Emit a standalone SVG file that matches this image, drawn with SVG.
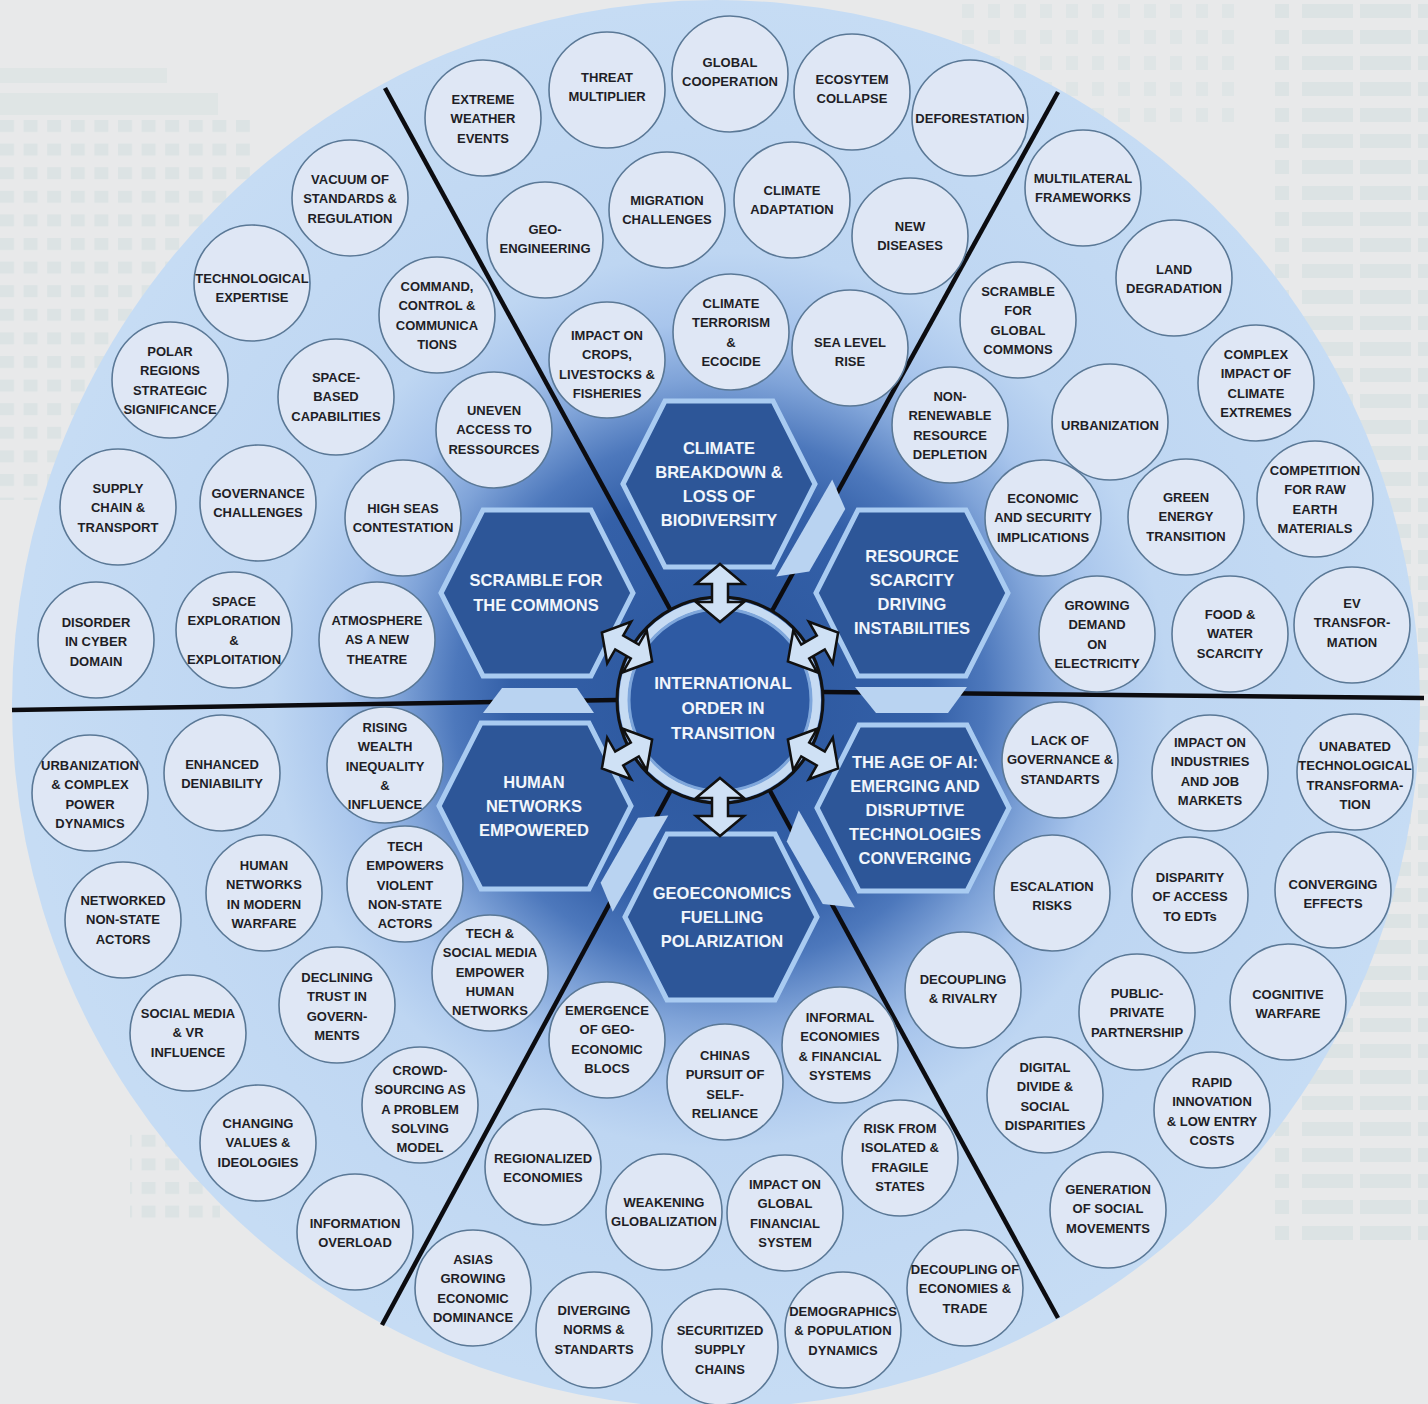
<svg xmlns="http://www.w3.org/2000/svg" width="1428" height="1404" viewBox="0 0 1428 1404">
<defs>
<radialGradient id="disc" cx="720" cy="700" r="700" gradientUnits="userSpaceOnUse">
<stop offset="0" stop-color="#2b569c"/>
<stop offset="0.30" stop-color="#3460a8"/>
<stop offset="0.38" stop-color="#4d78bc"/>
<stop offset="0.46" stop-color="#7fa3d8"/>
<stop offset="0.54" stop-color="#a8c5ec"/>
<stop offset="0.64" stop-color="#bed6f2"/>
<stop offset="1" stop-color="#c6dcf4"/>
</radialGradient>
<pattern id="grid" x="0" y="120" width="23.6" height="23.6" patternUnits="userSpaceOnUse"><rect width="14" height="12" fill="#dce3e4"/></pattern>
<pattern id="bars" x="1240" y="0" width="188" height="26" patternUnits="userSpaceOnUse">
<rect x="35" y="4" width="14" height="14" fill="#dce3e4"/><rect x="62" y="4" width="51" height="14" fill="#dce3e4"/><rect x="120" y="4" width="51" height="14" fill="#dce3e4"/><rect x="178" y="4" width="10" height="14" fill="#dce3e4"/>
</pattern>
<pattern id="small" x="960" y="0" width="26" height="26" patternUnits="userSpaceOnUse"><rect x="2" y="4" width="12" height="14" fill="#dfe5e6"/></pattern>
<polygon id="arrow" points="-29,0 -9,-24 -9,-8 9,-8 9,-24 29,0 9,24 9,8 -9,8 -9,24"/>
</defs>
<style>
.bub circle{fill:#dfe7f5;stroke:#5a7896;stroke-width:1.6}
.bub text{font-family:"Liberation Sans",Arial,sans-serif;font-weight:bold;font-size:13px;fill:#1e1e26;text-anchor:middle}
.hex polygon{fill:#2d5698;stroke:#a9cbf1;stroke-width:5}
.hex text{font-family:"Liberation Sans",Arial,sans-serif;font-weight:bold;font-size:16.5px;fill:#f2f6fc;text-anchor:middle}
.sep{stroke:#0c0c10;stroke-width:4.5;fill:none}
.arr{fill:#cfe1f5;stroke:#101010;stroke-width:2.5}
.chev{fill:#b9d3f1}
</style>
<rect width="1428" height="1404" fill="#e8e9ea"/>
<g id="backdrop-pattern">
<rect x="0" y="68" width="167" height="15" fill="#dfe5e5"/>
<rect x="0" y="93" width="218" height="22" fill="#dfe5e5"/>
<rect x="0" y="120" width="250" height="380" fill="url(#grid)"/>
<rect x="130" y="1130" width="90" height="95" fill="url(#grid)"/>
<rect x="1240" y="0" width="188" height="1240" fill="url(#bars)"/>
<rect x="960" y="0" width="280" height="130" fill="url(#small)"/>
</g>
<circle id="disc" cx="716" cy="704" r="704" fill="url(#disc)"/>
<g id="sector-lines">
<line class="sep" x1="671" y1="611" x2="385" y2="88"/>
<line class="sep" x1="772" y1="611" x2="1058" y2="92"/>
<line class="sep" x1="617" y1="700" x2="12" y2="710"/>
<line class="sep" x1="823" y1="692" x2="1424" y2="698"/>
<line class="sep" x1="671" y1="790" x2="382" y2="1325"/>
<line class="sep" x1="769" y1="789" x2="1058" y2="1318"/>
</g>
<g id="hexagons">
<g id="hex-climate" class="hex"><polygon points="623,484 665,401 773,401 815,484 773,567 665,567"/><text x="719" y="454"><tspan x="719">CLIMATE</tspan><tspan x="719" dy="24">BREAKDOWN &amp;</tspan><tspan x="719" dy="24">LOSS OF</tspan><tspan x="719" dy="24">BIODIVERSITY</tspan></text></g>
<g id="hex-geoeconomics" class="hex"><polygon points="625,917 667,834 775,834 817,917 775,1000 667,1000"/><text x="722" y="899"><tspan x="722">GEOECONOMICS</tspan><tspan x="722" dy="24">FUELLING</tspan><tspan x="722" dy="24">POLARIZATION</tspan></text></g>
<g id="hex-scramble" class="hex"><polygon points="441,593 483,510 591,510 633,593 591,676 483,676"/><text x="536" y="586"><tspan x="536">SCRAMBLE FOR</tspan><tspan x="536" dy="25">THE COMMONS</tspan></text></g>
<g id="hex-resource" class="hex"><polygon points="816,593 858,510 966,510 1008,593 966,676 858,676"/><text x="912" y="562"><tspan x="912">RESOURCE</tspan><tspan x="912" dy="24">SCARCITY</tspan><tspan x="912" dy="24">DRIVING</tspan><tspan x="912" dy="24">INSTABILITIES</tspan></text></g>
<g id="hex-human" class="hex"><polygon points="439,806 481,723 589,723 631,806 589,889 481,889"/><text x="534" y="788"><tspan x="534">HUMAN</tspan><tspan x="534" dy="24">NETWORKS</tspan><tspan x="534" dy="24">EMPOWERED</tspan></text></g>
<g id="hex-ai" class="hex"><polygon points="817,808 859,725 967,725 1009,808 967,891 859,891"/><text x="915" y="768"><tspan x="915">THE AGE OF AI:</tspan><tspan x="915" dy="24">EMERGING AND</tspan><tspan x="915" dy="24">DISRUPTIVE</tspan><tspan x="915" dy="24">TECHNOLOGIES</tspan><tspan x="915" dy="24">CONVERGING</tspan></text></g>
</g>
<g id="gap-markers">
<polygon class="chev" points="502,688 577,688 594,713 483,713"/>
<polygon class="chev" points="855,687 967,687 948,713 876,713"/>
<polygon class="chev" points="855,687 967,687 948,713 876,713" transform="rotate(-60 720 700)"/>
<polygon class="chev" points="855,687 967,687 948,713 876,713" transform="rotate(60 720 700)"/>
<polygon class="chev" points="502,688 577,688 594,713 483,713" transform="rotate(-60 720 700)"/>
</g>
<g id="center-node" class="hex">
<circle cx="720" cy="700" r="103" fill="#2e5aa3" stroke="#111" stroke-width="3"/>
<circle cx="720" cy="700" r="96.5" fill="none" stroke="#c6dbf3" stroke-width="9"/>
<circle cx="720" cy="700" r="91" fill="none" stroke="#7ea6db" stroke-width="3"/>
<text x="723" y="689" style="font-size:17px"><tspan x="723">INTERNATIONAL</tspan><tspan x="723" dy="25">ORDER IN</tspan><tspan x="723" dy="25">TRANSITION</tspan></text>
</g>
<g id="connectors">
<use href="#arrow" class="arr" transform="translate(720 593) rotate(90)"/>
<use href="#arrow" class="arr" transform="translate(720 807) rotate(90)"/>
<use href="#arrow" class="arr" transform="translate(813 647) rotate(-30)"/>
<use href="#arrow" class="arr" transform="translate(813 754) rotate(30)"/>
<use href="#arrow" class="arr" transform="translate(627 754) rotate(150)"/>
<use href="#arrow" class="arr" transform="translate(627 647) rotate(210)"/>
</g>
<g id="bubbles">
<g id="bubble-01" class="bub"><circle cx="483" cy="118" r="58"/><text x="483" y="104"><tspan x="483">EXTREME</tspan><tspan x="483" dy="19.3">WEATHER</tspan><tspan x="483" dy="19.3">EVENTS</tspan></text></g>
<g id="bubble-02" class="bub"><circle cx="607" cy="90" r="58"/><text x="607" y="82"><tspan x="607">THREAT</tspan><tspan x="607" dy="19.3">MULTIPLIER</tspan></text></g>
<g id="bubble-03" class="bub"><circle cx="730" cy="74" r="58"/><text x="730" y="67"><tspan x="730">GLOBAL</tspan><tspan x="730" dy="19.3">COOPERATION</tspan></text></g>
<g id="bubble-04" class="bub"><circle cx="852" cy="92" r="58"/><text x="852" y="84"><tspan x="852">ECOSYTEM</tspan><tspan x="852" dy="19.3">COLLAPSE</tspan></text></g>
<g id="bubble-05" class="bub"><circle cx="970" cy="118" r="58"/><text x="970" y="123"><tspan x="970">DEFORESTATION</tspan></text></g>
<g id="bubble-06" class="bub"><circle cx="545" cy="240" r="58"/><text x="545" y="234"><tspan x="545">GEO-</tspan><tspan x="545" dy="19.3">ENGINEERING</tspan></text></g>
<g id="bubble-07" class="bub"><circle cx="667" cy="210" r="58"/><text x="667" y="205"><tspan x="667">MIGRATION</tspan><tspan x="667" dy="19.3">CHALLENGES</tspan></text></g>
<g id="bubble-08" class="bub"><circle cx="792" cy="200" r="58"/><text x="792" y="195"><tspan x="792">CLIMATE</tspan><tspan x="792" dy="19.3">ADAPTATION</tspan></text></g>
<g id="bubble-09" class="bub"><circle cx="910" cy="236" r="58"/><text x="910" y="231"><tspan x="910">NEW</tspan><tspan x="910" dy="19.3">DISEASES</tspan></text></g>
<g id="bubble-10" class="bub"><circle cx="607" cy="360" r="58"/><text x="607" y="340"><tspan x="607">IMPACT ON</tspan><tspan x="607" dy="19.3">CROPS,</tspan><tspan x="607" dy="19.3">LIVESTOCKS &amp;</tspan><tspan x="607" dy="19.3">FISHERIES</tspan></text></g>
<g id="bubble-11" class="bub"><circle cx="731" cy="332" r="58"/><text x="731" y="308"><tspan x="731">CLIMATE</tspan><tspan x="731" dy="19.3">TERRORISM</tspan><tspan x="731" dy="19.3">&amp;</tspan><tspan x="731" dy="19.3">ECOCIDE</tspan></text></g>
<g id="bubble-12" class="bub"><circle cx="850" cy="348" r="58"/><text x="850" y="347"><tspan x="850">SEA LEVEL</tspan><tspan x="850" dy="19.3">RISE</tspan></text></g>
<g id="bubble-13" class="bub"><circle cx="1083" cy="188" r="58"/><text x="1083" y="183"><tspan x="1083">MULTILATERAL</tspan><tspan x="1083" dy="19.3">FRAMEWORKS</tspan></text></g>
<g id="bubble-14" class="bub"><circle cx="1174" cy="278" r="58"/><text x="1174" y="274"><tspan x="1174">LAND</tspan><tspan x="1174" dy="19.3">DEGRADATION</tspan></text></g>
<g id="bubble-15" class="bub"><circle cx="1018" cy="320" r="58"/><text x="1018" y="296"><tspan x="1018">SCRAMBLE</tspan><tspan x="1018" dy="19.3">FOR</tspan><tspan x="1018" dy="19.3">GLOBAL</tspan><tspan x="1018" dy="19.3">COMMONS</tspan></text></g>
<g id="bubble-16" class="bub"><circle cx="1256" cy="383" r="58"/><text x="1256" y="359"><tspan x="1256">COMPLEX</tspan><tspan x="1256" dy="19.3">IMPACT OF</tspan><tspan x="1256" dy="19.3">CLIMATE</tspan><tspan x="1256" dy="19.3">EXTREMES</tspan></text></g>
<g id="bubble-17" class="bub"><circle cx="1110" cy="422" r="58"/><text x="1110" y="430"><tspan x="1110">URBANIZATION</tspan></text></g>
<g id="bubble-18" class="bub"><circle cx="950" cy="425" r="58"/><text x="950" y="401"><tspan x="950">NON-</tspan><tspan x="950" dy="19.3">RENEWABLE</tspan><tspan x="950" dy="19.3">RESOURCE</tspan><tspan x="950" dy="19.3">DEPLETION</tspan></text></g>
<g id="bubble-19" class="bub"><circle cx="1043" cy="518" r="58"/><text x="1043" y="503"><tspan x="1043">ECONOMIC</tspan><tspan x="1043" dy="19.3">AND SECURITY</tspan><tspan x="1043" dy="19.3">IMPLICATIONS</tspan></text></g>
<g id="bubble-20" class="bub"><circle cx="1186" cy="517" r="58"/><text x="1186" y="502"><tspan x="1186">GREEN</tspan><tspan x="1186" dy="19.3">ENERGY</tspan><tspan x="1186" dy="19.3">TRANSITION</tspan></text></g>
<g id="bubble-21" class="bub"><circle cx="1315" cy="499" r="58"/><text x="1315" y="475"><tspan x="1315">COMPETITION</tspan><tspan x="1315" dy="19.3">FOR RAW</tspan><tspan x="1315" dy="19.3">EARTH</tspan><tspan x="1315" dy="19.3">MATERIALS</tspan></text></g>
<g id="bubble-22" class="bub"><circle cx="1097" cy="634" r="58"/><text x="1097" y="610"><tspan x="1097">GROWING</tspan><tspan x="1097" dy="19.3">DEMAND</tspan><tspan x="1097" dy="19.3">ON</tspan><tspan x="1097" dy="19.3">ELECTRICITY</tspan></text></g>
<g id="bubble-23" class="bub"><circle cx="1230" cy="634" r="58"/><text x="1230" y="619"><tspan x="1230">FOOD &amp;</tspan><tspan x="1230" dy="19.3">WATER</tspan><tspan x="1230" dy="19.3">SCARCITY</tspan></text></g>
<g id="bubble-24" class="bub"><circle cx="1352" cy="625" r="58"/><text x="1352" y="608"><tspan x="1352">EV</tspan><tspan x="1352" dy="19.3">TRANSFOR-</tspan><tspan x="1352" dy="19.3">MATION</tspan></text></g>
<g id="bubble-25" class="bub"><circle cx="1060" cy="760" r="58"/><text x="1060" y="745"><tspan x="1060">LACK OF</tspan><tspan x="1060" dy="19.3">GOVERNANCE &amp;</tspan><tspan x="1060" dy="19.3">STANDARTS</tspan></text></g>
<g id="bubble-26" class="bub"><circle cx="1210" cy="773" r="58"/><text x="1210" y="747"><tspan x="1210">IMPACT ON</tspan><tspan x="1210" dy="19.3">INDUSTRIES</tspan><tspan x="1210" dy="19.3">AND JOB</tspan><tspan x="1210" dy="19.3">MARKETS</tspan></text></g>
<g id="bubble-27" class="bub"><circle cx="1355" cy="772" r="58"/><text x="1355" y="751"><tspan x="1355">UNABATED</tspan><tspan x="1355" dy="19.3">TECHNOLOGICAL</tspan><tspan x="1355" dy="19.3">TRANSFORMA-</tspan><tspan x="1355" dy="19.3">TION</tspan></text></g>
<g id="bubble-28" class="bub"><circle cx="1052" cy="893" r="58"/><text x="1052" y="891"><tspan x="1052">ESCALATION</tspan><tspan x="1052" dy="19.3">RISKS</tspan></text></g>
<g id="bubble-29" class="bub"><circle cx="1190" cy="895" r="58"/><text x="1190" y="882"><tspan x="1190">DISPARITY</tspan><tspan x="1190" dy="19.3">OF ACCESS</tspan><tspan x="1190" dy="19.3">TO EDTs</tspan></text></g>
<g id="bubble-30" class="bub"><circle cx="1333" cy="890" r="58"/><text x="1333" y="889"><tspan x="1333">CONVERGING</tspan><tspan x="1333" dy="19.3">EFFECTS</tspan></text></g>
<g id="bubble-31" class="bub"><circle cx="963" cy="990" r="58"/><text x="963" y="984"><tspan x="963">DECOUPLING</tspan><tspan x="963" dy="19.3">&amp; RIVALRY</tspan></text></g>
<g id="bubble-32" class="bub"><circle cx="1137" cy="1012" r="58"/><text x="1137" y="998"><tspan x="1137">PUBLIC-</tspan><tspan x="1137" dy="19.3">PRIVATE</tspan><tspan x="1137" dy="19.3">PARTNERSHIP</tspan></text></g>
<g id="bubble-33" class="bub"><circle cx="1288" cy="1002" r="58"/><text x="1288" y="999"><tspan x="1288">COGNITIVE</tspan><tspan x="1288" dy="19.3">WARFARE</tspan></text></g>
<g id="bubble-34" class="bub"><circle cx="1045" cy="1095" r="58"/><text x="1045" y="1072"><tspan x="1045">DIGITAL</tspan><tspan x="1045" dy="19.3">DIVIDE &amp;</tspan><tspan x="1045" dy="19.3">SOCIAL</tspan><tspan x="1045" dy="19.3">DISPARITIES</tspan></text></g>
<g id="bubble-35" class="bub"><circle cx="1212" cy="1110" r="58"/><text x="1212" y="1087"><tspan x="1212">RAPID</tspan><tspan x="1212" dy="19.3">INNOVATION</tspan><tspan x="1212" dy="19.3">&amp; LOW ENTRY</tspan><tspan x="1212" dy="19.3">COSTS</tspan></text></g>
<g id="bubble-36" class="bub"><circle cx="1108" cy="1210" r="58"/><text x="1108" y="1194"><tspan x="1108">GENERATION</tspan><tspan x="1108" dy="19.3">OF SOCIAL</tspan><tspan x="1108" dy="19.3">MOVEMENTS</tspan></text></g>
<g id="bubble-37" class="bub"><circle cx="607" cy="1040" r="58"/><text x="607" y="1015"><tspan x="607">EMERGENCE</tspan><tspan x="607" dy="19.3">OF GEO-</tspan><tspan x="607" dy="19.3">ECONOMIC</tspan><tspan x="607" dy="19.3">BLOCS</tspan></text></g>
<g id="bubble-38" class="bub"><circle cx="725" cy="1082" r="58"/><text x="725" y="1060"><tspan x="725">CHINAS</tspan><tspan x="725" dy="19.3">PURSUIT OF</tspan><tspan x="725" dy="19.3">SELF-</tspan><tspan x="725" dy="19.3">RELIANCE</tspan></text></g>
<g id="bubble-39" class="bub"><circle cx="840" cy="1045" r="58"/><text x="840" y="1022"><tspan x="840">INFORMAL</tspan><tspan x="840" dy="19.3">ECONOMIES</tspan><tspan x="840" dy="19.3">&amp; FINANCIAL</tspan><tspan x="840" dy="19.3">SYSTEMS</tspan></text></g>
<g id="bubble-40" class="bub"><circle cx="900" cy="1158" r="58"/><text x="900" y="1133"><tspan x="900">RISK FROM</tspan><tspan x="900" dy="19.3">ISOLATED &amp;</tspan><tspan x="900" dy="19.3">FRAGILE</tspan><tspan x="900" dy="19.3">STATES</tspan></text></g>
<g id="bubble-41" class="bub"><circle cx="543" cy="1167" r="58"/><text x="543" y="1163"><tspan x="543">REGIONALIZED</tspan><tspan x="543" dy="19.3">ECONOMIES</tspan></text></g>
<g id="bubble-42" class="bub"><circle cx="664" cy="1212" r="58"/><text x="664" y="1207"><tspan x="664">WEAKENING</tspan><tspan x="664" dy="19.3">GLOBALIZATION</tspan></text></g>
<g id="bubble-43" class="bub"><circle cx="785" cy="1213" r="58"/><text x="785" y="1189"><tspan x="785">IMPACT ON</tspan><tspan x="785" dy="19.3">GLOBAL</tspan><tspan x="785" dy="19.3">FINANCIAL</tspan><tspan x="785" dy="19.3">SYSTEM</tspan></text></g>
<g id="bubble-44" class="bub"><circle cx="965" cy="1288" r="58"/><text x="965" y="1274"><tspan x="965">DECOUPLING OF</tspan><tspan x="965" dy="19.3">ECONOMIES &amp;</tspan><tspan x="965" dy="19.3">TRADE</tspan></text></g>
<g id="bubble-45" class="bub"><circle cx="473" cy="1288" r="58"/><text x="473" y="1264"><tspan x="473">ASIAS</tspan><tspan x="473" dy="19.3">GROWING</tspan><tspan x="473" dy="19.3">ECONOMIC</tspan><tspan x="473" dy="19.3">DOMINANCE</tspan></text></g>
<g id="bubble-46" class="bub"><circle cx="594" cy="1330" r="58"/><text x="594" y="1315"><tspan x="594">DIVERGING</tspan><tspan x="594" dy="19.3">NORMS &amp;</tspan><tspan x="594" dy="19.3">STANDARTS</tspan></text></g>
<g id="bubble-47" class="bub"><circle cx="720" cy="1347" r="58"/><text x="720" y="1335"><tspan x="720">SECURITIZED</tspan><tspan x="720" dy="19.3">SUPPLY</tspan><tspan x="720" dy="19.3">CHAINS</tspan></text></g>
<g id="bubble-48" class="bub"><circle cx="843" cy="1330" r="58"/><text x="843" y="1316"><tspan x="843">DEMOGRAPHICS</tspan><tspan x="843" dy="19.3">&amp; POPULATION</tspan><tspan x="843" dy="19.3">DYNAMICS</tspan></text></g>
<g id="bubble-49" class="bub"><circle cx="385" cy="765" r="58"/><text x="385" y="732"><tspan x="385">RISING</tspan><tspan x="385" dy="19.3">WEALTH</tspan><tspan x="385" dy="19.3">INEQUALITY</tspan><tspan x="385" dy="19.3">&amp;</tspan><tspan x="385" dy="19.3">INFLUENCE</tspan></text></g>
<g id="bubble-50" class="bub"><circle cx="222" cy="773" r="58"/><text x="222" y="769"><tspan x="222">ENHANCED</tspan><tspan x="222" dy="19.3">DENIABILITY</tspan></text></g>
<g id="bubble-51" class="bub"><circle cx="90" cy="793" r="58"/><text x="90" y="770"><tspan x="90">URBANIZATION</tspan><tspan x="90" dy="19.3">&amp; COMPLEX</tspan><tspan x="90" dy="19.3">POWER</tspan><tspan x="90" dy="19.3">DYNAMICS</tspan></text></g>
<g id="bubble-52" class="bub"><circle cx="405" cy="884" r="58"/><text x="405" y="851"><tspan x="405">TECH</tspan><tspan x="405" dy="19.3">EMPOWERS</tspan><tspan x="405" dy="19.3">VIOLENT</tspan><tspan x="405" dy="19.3">NON-STATE</tspan><tspan x="405" dy="19.3">ACTORS</tspan></text></g>
<g id="bubble-53" class="bub"><circle cx="264" cy="893" r="58"/><text x="264" y="870"><tspan x="264">HUMAN</tspan><tspan x="264" dy="19.3">NETWORKS</tspan><tspan x="264" dy="19.3">IN MODERN</tspan><tspan x="264" dy="19.3">WARFARE</tspan></text></g>
<g id="bubble-54" class="bub"><circle cx="123" cy="920" r="58"/><text x="123" y="905"><tspan x="123">NETWORKED</tspan><tspan x="123" dy="19.3">NON-STATE</tspan><tspan x="123" dy="19.3">ACTORS</tspan></text></g>
<g id="bubble-55" class="bub"><circle cx="490" cy="973" r="58"/><text x="490" y="938"><tspan x="490">TECH &amp;</tspan><tspan x="490" dy="19.3">SOCIAL MEDIA</tspan><tspan x="490" dy="19.3">EMPOWER</tspan><tspan x="490" dy="19.3">HUMAN</tspan><tspan x="490" dy="19.3">NETWORKS</tspan></text></g>
<g id="bubble-56" class="bub"><circle cx="337" cy="1005" r="58"/><text x="337" y="982"><tspan x="337">DECLINING</tspan><tspan x="337" dy="19.3">TRUST IN</tspan><tspan x="337" dy="19.3">GOVERN-</tspan><tspan x="337" dy="19.3">MENTS</tspan></text></g>
<g id="bubble-57" class="bub"><circle cx="188" cy="1033" r="58"/><text x="188" y="1018"><tspan x="188">SOCIAL MEDIA</tspan><tspan x="188" dy="19.3">&amp; VR</tspan><tspan x="188" dy="19.3">INFLUENCE</tspan></text></g>
<g id="bubble-58" class="bub"><circle cx="420" cy="1105" r="58"/><text x="420" y="1075"><tspan x="420">CROWD-</tspan><tspan x="420" dy="19.3">SOURCING AS</tspan><tspan x="420" dy="19.3">A PROBLEM</tspan><tspan x="420" dy="19.3">SOLVING</tspan><tspan x="420" dy="19.3">MODEL</tspan></text></g>
<g id="bubble-59" class="bub"><circle cx="258" cy="1143" r="58"/><text x="258" y="1128"><tspan x="258">CHANGING</tspan><tspan x="258" dy="19.3">VALUES &amp;</tspan><tspan x="258" dy="19.3">IDEOLOGIES</tspan></text></g>
<g id="bubble-60" class="bub"><circle cx="355" cy="1232" r="58"/><text x="355" y="1228"><tspan x="355">INFORMATION</tspan><tspan x="355" dy="19.3">OVERLOAD</tspan></text></g>
<g id="bubble-61" class="bub"><circle cx="350" cy="198" r="58"/><text x="350" y="184"><tspan x="350">VACUUM OF</tspan><tspan x="350" dy="19.3">STANDARDS &amp;</tspan><tspan x="350" dy="19.3">REGULATION</tspan></text></g>
<g id="bubble-62" class="bub"><circle cx="252" cy="283" r="58"/><text x="252" y="283"><tspan x="252">TECHNOLOGICAL</tspan><tspan x="252" dy="19.3">EXPERTISE</tspan></text></g>
<g id="bubble-63" class="bub"><circle cx="437" cy="315" r="58"/><text x="437" y="291"><tspan x="437">COMMAND,</tspan><tspan x="437" dy="19.3">CONTROL &amp;</tspan><tspan x="437" dy="19.3">COMMUNICA</tspan><tspan x="437" dy="19.3">TIONS</tspan></text></g>
<g id="bubble-64" class="bub"><circle cx="170" cy="380" r="58"/><text x="170" y="356"><tspan x="170">POLAR</tspan><tspan x="170" dy="19.3">REGIONS</tspan><tspan x="170" dy="19.3">STRATEGIC</tspan><tspan x="170" dy="19.3">SIGNIFICANCE</tspan></text></g>
<g id="bubble-65" class="bub"><circle cx="336" cy="397" r="58"/><text x="336" y="382"><tspan x="336">SPACE-</tspan><tspan x="336" dy="19.3">BASED</tspan><tspan x="336" dy="19.3">CAPABILITIES</tspan></text></g>
<g id="bubble-66" class="bub"><circle cx="494" cy="430" r="58"/><text x="494" y="415"><tspan x="494">UNEVEN</tspan><tspan x="494" dy="19.3">ACCESS TO</tspan><tspan x="494" dy="19.3">RESSOURCES</tspan></text></g>
<g id="bubble-67" class="bub"><circle cx="118" cy="507" r="58"/><text x="118" y="493"><tspan x="118">SUPPLY</tspan><tspan x="118" dy="19.3">CHAIN &amp;</tspan><tspan x="118" dy="19.3">TRANSPORT</tspan></text></g>
<g id="bubble-68" class="bub"><circle cx="258" cy="503" r="58"/><text x="258" y="498"><tspan x="258">GOVERNANCE</tspan><tspan x="258" dy="19.3">CHALLENGES</tspan></text></g>
<g id="bubble-69" class="bub"><circle cx="403" cy="518" r="58"/><text x="403" y="513"><tspan x="403">HIGH SEAS</tspan><tspan x="403" dy="19.3">CONTESTATION</tspan></text></g>
<g id="bubble-70" class="bub"><circle cx="96" cy="640" r="58"/><text x="96" y="627"><tspan x="96">DISORDER</tspan><tspan x="96" dy="19.3">IN CYBER</tspan><tspan x="96" dy="19.3">DOMAIN</tspan></text></g>
<g id="bubble-71" class="bub"><circle cx="234" cy="630" r="58"/><text x="234" y="606"><tspan x="234">SPACE</tspan><tspan x="234" dy="19.3">EXPLORATION</tspan><tspan x="234" dy="19.3">&amp;</tspan><tspan x="234" dy="19.3">EXPLOITATION</tspan></text></g>
<g id="bubble-72" class="bub"><circle cx="377" cy="640" r="58"/><text x="377" y="625"><tspan x="377">ATMOSPHERE</tspan><tspan x="377" dy="19.3">AS A NEW</tspan><tspan x="377" dy="19.3">THEATRE</tspan></text></g>
</g>
</svg>
